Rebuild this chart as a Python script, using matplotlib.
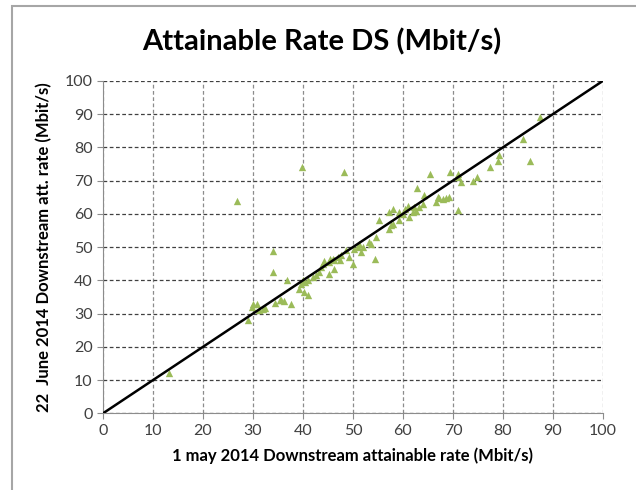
import matplotlib.pyplot as plt
from matplotlib.patches import Rectangle

# 1 may 2014 (x) vs 22 June 2014 (y) attainable downstream rate, Mbit/s
may_rate = [13.2, 26.8, 29.0, 29.7, 30.0, 30.9, 31.3, 32.0, 32.5, 34.0,
            34.0, 34.5, 35.5, 35.7, 36.2, 36.8, 37.7, 39.3, 39.7, 39.9,
            40.0, 40.3, 40.5, 41.0, 41.0, 42.0, 42.7, 43.3, 43.7, 44.0,
            44.3, 45.3, 45.3, 45.5, 46.0, 46.2, 46.3, 47.0, 47.5, 47.7,
            48.2, 48.7, 49.3, 50.0, 50.3, 51.0, 51.3, 51.7, 52.0, 53.3,
            53.7, 54.5, 54.7, 55.3, 57.3, 57.7, 58.0, 57.3, 58.0, 59.2,
            59.3, 60.0, 60.5, 61.0, 61.3, 62.0, 62.3, 62.7, 63.3, 64.0,
            62.8, 64.3, 65.5, 66.7, 67.0, 67.3, 68.0, 68.7, 69.3, 69.5,
            71.0, 71.0, 71.7, 71.0, 74.0, 74.8, 77.5, 79.1, 79.3, 84.0,
            85.5, 87.5]
june_rate = [12.0, 64.0, 28.2, 32.0, 33.0, 32.8, 31.0, 31.5, 31.8, 48.8,
             42.5, 33.3, 34.0, 34.2, 33.8, 40.2, 32.8, 37.5, 39.0, 74.0,
             40.0, 36.5, 39.5, 35.5, 40.0, 41.0, 41.5, 42.5, 44.0, 45.0,
             45.8, 42.0, 45.5, 46.3, 46.5, 46.0, 43.5, 47.0, 46.0, 47.5,
             72.5, 49.0, 47.0, 45.0, 49.5, 50.0, 51.0, 48.5, 50.0, 51.5,
             51.0, 46.5, 53.0, 58.0, 55.5, 56.5, 57.0, 60.5, 61.5, 60.5,
             58.0, 60.0, 61.5, 62.5, 59.0, 60.5, 62.0, 61.0, 62.0, 63.0,
             67.7, 65.8, 72.0, 63.5, 65.0, 64.8, 64.5, 64.8, 65.2, 72.5,
             72.0, 71.0, 69.5, 61.2, 70.0, 71.0, 74.0, 76.0, 77.6, 82.6,
             75.8, 89.0]

ticks = list(range(0, 101, 10))

plt.rcParams['font.family'] = ['Lato', 'DejaVu Sans']

fig = plt.figure(figsize=(6.36, 4.9), dpi=100)
# chart-area frame (only the left and top edges show in the reference)
fig.patches.append(Rectangle((0.019, -0.05), 1.05, 1.038, transform=fig.transFigure,
                             fill=False, edgecolor='#a6a6a6', linewidth=1.5))

ax = fig.add_axes([0.162, 0.1565, 0.786, 0.6785])

ax.scatter(may_rate, june_rate, marker='^', s=28, color='#9bbb59', zorder=3, linewidths=0)
ax.plot([0, 100], [0, 100], color='black', linewidth=1.8, zorder=4)

ax.set_xlim(0, 100)
ax.set_ylim(0, 100)
ax.set_xticks(ticks)
ax.set_yticks(ticks)

ax.yaxis.grid(True, color='#404040', linestyle=(0, (3, 2)), linewidth=0.9)
ax.xaxis.grid(True, color='#8c8c8c', linestyle=(0, (3, 2)), linewidth=0.9)
ax.set_axisbelow(True)

for side in ['top', 'right']:
    ax.spines[side].set_visible(False)
for side in ['left', 'bottom']:
    ax.spines[side].set_color('#8c8c8c')
ax.tick_params(axis='both', colors='#8c8c8c', labelcolor='#404040', length=4,
               labelsize=11.5)

ax.set_xlabel('1 may 2014 Downstream attainable rate (Mbit/s)', fontsize=12,
              fontweight='bold', labelpad=7)
ax.set_ylabel('22  June 2014 Downstream att. rate (Mbit/s)', fontsize=12,
              fontweight='bold', labelpad=9)

fig.text(0.506, 0.915, 'Attainable Rate DS (Mbit/s)', ha='center', va='center',
         fontsize=21, fontweight='bold')

fig.savefig('out.png', dpi=100)
